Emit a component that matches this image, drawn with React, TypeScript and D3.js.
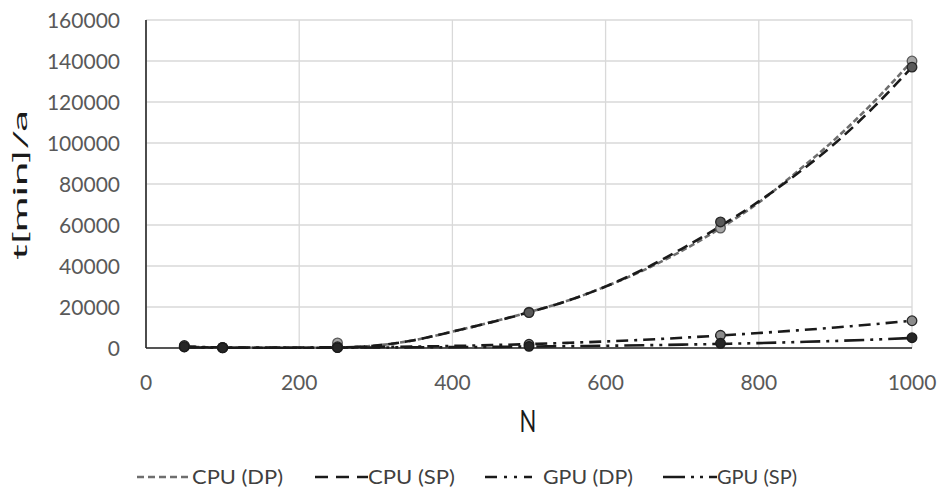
import React from "react";
import * as d3 from "d3";

// Measured points
const N = [50, 100, 250, 500, 750, 1000];
const cpuDP = [900, 300, 2500, 17500, 58500, 140000];
const cpuSP = [500, 150, 300, 17300, 61500, 137000];
const gpuDP = [1200, 300, 600, 1800, 6200, 13300];
const gpuSP = [600, 100, 200, 800, 2300, 5000];

// Trend lines
const trendN = [50, 100, 150, 200, 250, 300, 350, 400, 450, 500, 550, 600, 650, 700, 750, 800, 850, 900, 950, 1000];
const cpuDPTrend = [600, 200, 100, 100, 200, 1200, 3800, 8000, 12500, 17500, 23000, 30000, 38000, 47500, 58500, 71000, 86000, 102000, 120000, 140000];
const cpuSPTrend = [600, 200, 100, 100, 200, 1200, 3800, 8000, 12500, 17400, 23000, 30000, 38500, 48500, 59500, 71500, 85000, 100000, 117500, 137000];
const gpuDPTrend = [700, 300, 200, 250, 350, 500, 700, 1000, 1400, 1900, 2500, 3200, 4000, 5000, 6100, 7300, 8600, 10000, 11600, 13300];
const gpuSPTrend = [300, 150, 100, 120, 170, 250, 330, 420, 540, 700, 880, 1100, 1350, 1650, 2000, 2400, 2900, 3450, 4100, 4900];

const xTicks = [0, 200, 400, 600, 800, 1000];
const yTicks = [0, 20000, 40000, 60000, 80000, 100000, 120000, 140000, 160000];

const seriesNames = ["CPU (DP)", "CPU (SP)", "GPU (DP)", "GPU (SP)"];

export default function App() {
  const W = 943, H = 494;
  const x = d3.scaleLinear().domain([0, 1000]).range([146, 912]);
  const y = d3.scaleLinear().domain([0, 160000]).range([348, 20]);
  const line = d3.line<[number, number]>().x(d => x(d[0])).y(d => y(d[1])).curve(d3.curveMonotoneX);

  const styles = [
    { trend: cpuDPTrend, pts: cpuDP, stroke: "#6e6e6e", dash: "6,3", fill: "#a6a6a6", mstroke: "#595959" },
    { trend: cpuSPTrend, pts: cpuSP, stroke: "#1a1a1a", dash: "11,6", fill: "#595959", mstroke: "#262626" },
    { trend: gpuDPTrend, pts: gpuDP, stroke: "#1a1a1a", dash: "12,6,3,6", fill: "#8c8c8c", mstroke: "#262626" },
    { trend: gpuSPTrend, pts: gpuSP, stroke: "#1a1a1a", dash: "20,6,3,6,3,6", fill: "#262626", mstroke: "#1a1a1a" },
  ];

  const legendLine: [number, number][] = [[137, 192], [315, 368], [485, 532], [663, 717]];
  const legendText = [192, 368, 543, 717];
  const legendLen = [91, 87, 90, 80];
  const legendDash = ["7,4", "13,8", "12,7,3,7,3,7", "22,6,3,6,3,6"];
  const font = "Lato, 'Open Sans', sans-serif";

  return (
    <svg width={W} height={H} style={{ display: "block", position: "absolute", left: 0, top: 0 }} fontFamily={font}>
      <rect width={W} height={H} fill="#fff" />
      {yTicks.map(t => (
        <line key={"gy" + t} x1={x(0)} x2={x(1000)} y1={y(t)} y2={y(t)} stroke="#d9d9d9" strokeWidth={1.3} />
      ))}
      {xTicks.map(t => (
        <line key={"gx" + t} x1={x(t)} x2={x(t)} y1={y(0)} y2={y(160000)} stroke="#d9d9d9" strokeWidth={1.3} />
      ))}
      <line x1={x(0)} x2={x(0)} y1={y(0)} y2={y(160000)} stroke="#262626" strokeWidth={1.6} />
      <line x1={x(0)} x2={x(1000)} y1={y(0)} y2={y(0)} stroke="#262626" strokeWidth={1.6} />
      {yTicks.map(t => (
        <text key={"yl" + t} x={120} y={y(t)} dy="0.36em" textAnchor="end" fontSize={21} fill="#595959">{t}</text>
      ))}
      {xTicks.map(t => (
        <text key={"xl" + t} x={x(t)} y={382} dy="0.36em" textAnchor="middle" fontSize={21} fill="#595959">{t}</text>
      ))}
      <text transform="translate(528,421) scale(1,1.4)" dy="0.36em" textAnchor="middle" fontSize={22} fill="#1a1a1a">N</text>
      <text transform="translate(20,185) rotate(-90)" dy="0.36em" textAnchor="middle" fontSize={19} fill="#1a1a1a" textLength={150} lengthAdjust="spacingAndGlyphs">t[min]/a</text>

      {styles.map((s, i) => (
        <path key={"l" + i} d={line(trendN.map((n, j) => [n, s.trend[j]] as [number, number])) || ""} fill="none" stroke={s.stroke} strokeWidth={2.6} strokeDasharray={s.dash} />
      ))}
      {styles.map((s, i) => (
        <g key={"m" + i}>
          {N.map((n, j) => (
            <circle key={j} cx={x(n)} cy={y(s.pts[j])} r={4.8} fill={s.fill} stroke={s.mstroke} strokeWidth={1.3} />
          ))}
        </g>
      ))}

      {seriesNames.map((name, i) => (
        <g key={"lg" + i}>
          <line x1={legendLine[i][0]} x2={legendLine[i][1]} y1={477} y2={477} stroke={styles[i].stroke} strokeWidth={2.6} strokeDasharray={legendDash[i]} />
          <text x={legendText[i]} y={477} dy="0.36em" fontSize={20} fill="#404040" textLength={legendLen[i]} lengthAdjust="spacingAndGlyphs">{name}</text>
        </g>
      ))}
    </svg>
  );
}
